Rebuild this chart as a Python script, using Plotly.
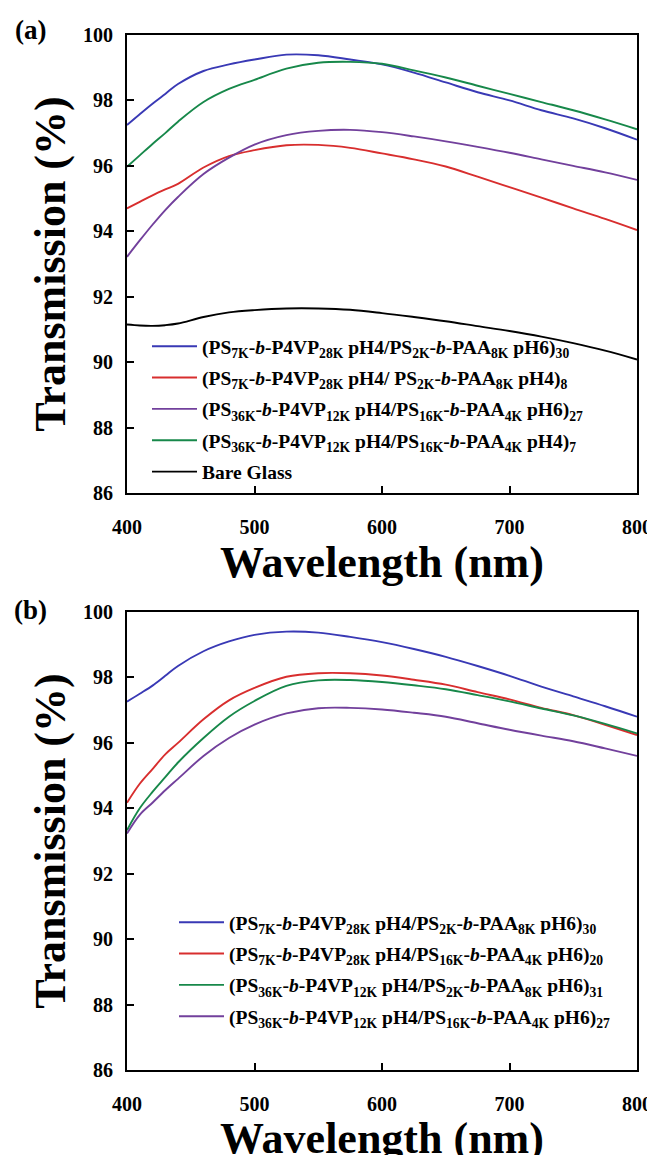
import plotly.graph_objects as go

W, H = 655, 1155
OFF = 8  # page body margin offset in the browser

wavelength = [400, 410, 420, 430, 440, 460, 480, 500, 525, 550, 575, 600,
              625, 650, 675, 700, 725, 750, 775, 800]

# Panel (a)
a_blue   = [97.25, 97.58, 97.90, 98.20, 98.50, 98.90, 99.10, 99.25, 99.40, 99.38,
            99.25, 99.10, 98.85, 98.55, 98.25, 98.00, 97.70, 97.45, 97.15, 96.80]
a_red    = [94.70, 94.90, 95.10, 95.28, 95.45, 95.95, 96.30, 96.48, 96.63, 96.64,
            96.55, 96.38, 96.20, 95.98, 95.67, 95.35, 95.03, 94.70, 94.38, 94.04]
a_purple = [93.22, 93.72, 94.20, 94.65, 95.05, 95.75, 96.25, 96.65, 96.94, 97.07,
            97.10, 97.03, 96.90, 96.75, 96.58, 96.40, 96.20, 96.00, 95.80, 95.57]
a_green  = [95.97, 96.32, 96.67, 97.00, 97.35, 97.95, 98.35, 98.63, 98.97, 99.15,
            99.18, 99.12, 98.92, 98.70, 98.45, 98.20, 97.95, 97.70, 97.42, 97.12]
a_black  = [91.15, 91.12, 91.11, 91.13, 91.18, 91.38, 91.52, 91.59, 91.64, 91.64,
            91.60, 91.50, 91.38, 91.25, 91.10, 90.95, 90.78, 90.58, 90.35, 90.08]

# Panel (b)
b_blue   = [97.26, 97.50, 97.75, 98.05, 98.35, 98.80, 99.10, 99.30, 99.40, 99.37,
            99.24, 99.08, 98.87, 98.63, 98.35, 98.05, 97.72, 97.42, 97.12, 96.80]
b_red    = [94.17, 94.75, 95.20, 95.65, 96.00, 96.72, 97.30, 97.68, 98.02, 98.13,
            98.13, 98.06, 97.93, 97.78, 97.55, 97.33, 97.07, 96.85, 96.55, 96.24]
b_green  = [93.33, 94.00, 94.50, 94.95, 95.40, 96.15, 96.80, 97.28, 97.74, 97.91,
            97.92, 97.86, 97.76, 97.64, 97.46, 97.27, 97.05, 96.84, 96.58, 96.29]
b_purple = [93.23, 93.80, 94.17, 94.55, 94.90, 95.60, 96.15, 96.56, 96.90, 97.06,
            97.07, 97.02, 96.92, 96.80, 96.60, 96.40, 96.22, 96.05, 95.83, 95.60]

a_names = [
    "(PS<sub>7K</sub>-<i>b</i>-P4VP<sub>28K</sub> pH4/PS<sub>2K</sub>-<i>b</i>-PAA<sub>8K</sub> pH6)<sub>30</sub>",
    "(PS<sub>7K</sub>-<i>b</i>-P4VP<sub>28K</sub> pH4/ PS<sub>2K</sub>-<i>b</i>-PAA<sub>8K</sub> pH4)<sub>8</sub>",
    "(PS<sub>36K</sub>-<i>b</i>-P4VP<sub>12K</sub> pH4/PS<sub>16K</sub>-<i>b</i>-PAA<sub>4K</sub> pH6)<sub>27</sub>",
    "(PS<sub>36K</sub>-<i>b</i>-P4VP<sub>12K</sub> pH4/PS<sub>16K</sub>-<i>b</i>-PAA<sub>4K</sub> pH4)<sub>7</sub>",
    "Bare Glass",
]
b_names = [
    "(PS<sub>7K</sub>-<i>b</i>-P4VP<sub>28K</sub> pH4/PS<sub>2K</sub>-<i>b</i>-PAA<sub>8K</sub> pH6)<sub>30</sub>",
    "(PS<sub>7K</sub>-<i>b</i>-P4VP<sub>28K</sub> pH4/PS<sub>16K</sub>-<i>b</i>-PAA<sub>4K</sub> pH6)<sub>20</sub>",
    "(PS<sub>36K</sub>-<i>b</i>-P4VP<sub>12K</sub> pH4/PS<sub>2K</sub>-<i>b</i>-PAA<sub>8K</sub> pH6)<sub>31</sub>",
    "(PS<sub>36K</sub>-<i>b</i>-P4VP<sub>12K</sub> pH4/PS<sub>16K</sub>-<i>b</i>-PAA<sub>4K</sub> pH6)<sub>27</sub>",
]

BLUE, RED, PURPLE, GREEN, BLACK = "#3939b5", "#d82e2e", "#72409c", "#17884a", "#000000"
FONT = "Liberation Serif"

fig = go.Figure()

a_series = [a_blue, a_red, a_purple, a_green, a_black]
a_colors = [BLUE, RED, PURPLE, GREEN, BLACK]
for i, (ys, c, n) in enumerate(zip(a_series, a_colors, a_names)):
    fig.add_trace(go.Scatter(x=wavelength, y=ys, mode="lines", name=n,
                             line=dict(color=c, width=1.9, shape="spline"),
                             xaxis="x", yaxis="y", legend="legend",
                             legendgroup="a%d" % i))

b_series = [b_blue, b_red, b_green, b_purple]
b_colors = [BLUE, RED, GREEN, PURPLE]
for i, (ys, c, n) in enumerate(zip(b_series, b_colors, b_names)):
    fig.add_trace(go.Scatter(x=wavelength, y=ys, mode="lines", name=n,
                             line=dict(color=c, width=1.9, shape="spline"),
                             xaxis="x2", yaxis="y2", legend="legend2",
                             legendgroup="b%d" % i))

def px(x):
    return (x - OFF) / W

def py(y):
    return 1 - (y - OFF) / H

xl, xr = px(127), px(637)
a_top, a_bot = py(35), py(493)
b_top, b_bot = py(612), py(1070)

tickfont = dict(family=FONT, size=20, color="black", weight="bold")
titlefont = dict(family=FONT, size=44, color="black", weight="bold")

def xax(anchor):
    return dict(domain=[xl, xr], anchor=anchor, range=[400, 800],
                tickvals=[400, 500, 600, 700, 800], ticks="inside", ticklen=7,
                tickwidth=2, tickcolor="black", showline=True, linewidth=2,
                linecolor="black", mirror=True, showgrid=False, zeroline=False,
                tickfont=tickfont, ticklabelstandoff=15, automargin=False,
                title=dict(text="Wavelength (nm)", font=titlefont, standoff=6))

def yax(anchor, domain):
    return dict(domain=domain, anchor=anchor, range=[86, 100],
                tickvals=[86, 88, 90, 92, 94, 96, 98, 100], ticks="inside",
                ticklen=7, tickwidth=2, tickcolor="black", showline=True,
                linewidth=2, linecolor="black", mirror=True, showgrid=False,
                zeroline=False, tickfont=tickfont, ticklabelstandoff=8,
                automargin=False,
                title=dict(text="Transmission (%)", font=titlefont, standoff=4))

legfont = dict(family=FONT, size=19.5, color="black", weight="bold")

fig.update_layout(
    width=W, height=H, margin=dict(l=0, r=0, t=0, b=0, autoexpand=False),
    paper_bgcolor="white", plot_bgcolor="white",
    xaxis=xax("y"),
    yaxis=yax("x", [a_bot, a_top]),
    xaxis2=xax("y2"),
    yaxis2=yax("x2", [b_bot, b_top]),
    legend=dict(x=px(147), y=py(327), xanchor="left", yanchor="top",
                bgcolor="rgba(0,0,0,0)", font=legfont, itemwidth=45,
                tracegroupgap=3, traceorder="grouped"),
    legend2=dict(x=px(174), y=py(903), xanchor="left", yanchor="top",
                 bgcolor="rgba(0,0,0,0)", font=legfont, itemwidth=45,
                 tracegroupgap=3, traceorder="grouped"),
    showlegend=True,
    annotations=[
        dict(text="(a)", x=px(30), y=py(30), xref="paper", yref="paper",
             xanchor="center", yanchor="middle", showarrow=False,
             font=dict(family=FONT, size=27, color="black", weight="bold")),
        dict(text="(b)", x=px(30), y=py(610), xref="paper", yref="paper",
             xanchor="center", yanchor="middle", showarrow=False,
             font=dict(family=FONT, size=27, color="black", weight="bold")),
    ],
)

fig.write_html("out.html")
